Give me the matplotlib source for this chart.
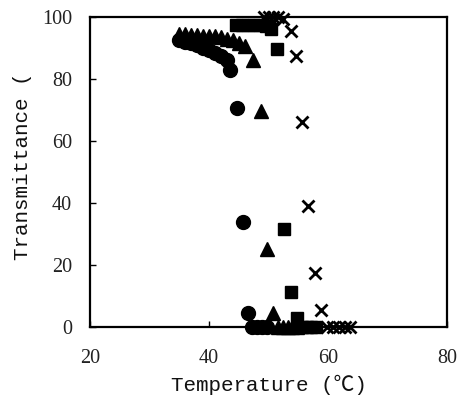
import matplotlib
matplotlib.use("Agg")
import matplotlib.pyplot as plt

# Series
circle_T = [35, 36, 37, 38, 39, 40, 41, 42, 43, 43.6, 44.7, 45.7, 46.5, 47.3, 48.1, 48.9, 49.7]
circle_v = [92.5, 92, 91.5, 91, 90, 89.5, 88.5, 87.5, 86, 83, 70.5, 34, 4.5, 0, 0, 0, 0]

tri_T = [35, 36, 37, 38, 39, 40, 41, 42, 43, 44, 45, 46, 47.4, 48.7, 49.7, 50.8, 51.6, 52.4, 53.2, 54.0, 54.8]
tri_v = [94.5, 94.5, 94.3, 94.2, 94, 94, 93.8, 93.5, 93, 92.5, 91.5, 90.5, 86, 69.6, 25, 4.5, 0, 0, 0, 0, 0]

sq_T = [44.5, 45.5, 46.5, 47.5, 48.5, 49.5, 50.4, 51.4, 52.6, 53.8, 54.8, 55.6, 56.4, 57.2, 58.0]
sq_v = [97.5, 97.5, 97.5, 97.5, 97.3, 97, 96, 89.6, 31.7, 11.3, 3, 0, 0, 0, 0]

x_T = [49.2, 50.0, 50.8, 51.6, 52.4, 53.8, 54.6, 55.6, 56.6, 57.8, 58.8, 59.8, 60.8, 61.8, 62.8, 63.7]
x_v = [100, 100, 100, 100, 99.5, 95.5, 87.4, 66, 39, 17.5, 5.5, 0, 0, 0, 0, 0]

xticks = [20, 40, 60, 80]
yticks = [0, 20, 40, 60, 80, 100]

serif = ['Liberation Serif', 'DejaVu Serif']
mono = ['Liberation Mono', 'Noto Sans CJK JP', 'DejaVu Sans']

fig = plt.figure(figsize=(4.6, 3.98), dpi=100)
ax = fig.add_axes([0.1957, 0.1784, 0.7760, 0.7789])

ax.plot(circle_T, circle_v, 'o', color='black', markersize=10, linestyle='none', clip_on=False)
ax.plot(tri_T, tri_v, '^', color='black', markersize=10.5, linestyle='none', clip_on=False)
ax.plot(sq_T, sq_v, 's', color='black', markersize=9, linestyle='none', clip_on=False)
ax.plot(x_T, x_v, 'x', color='black', markersize=9, markeredgewidth=2, linestyle='none', clip_on=False)

ax.set_xlim(20, 80)
ax.set_ylim(0, 100)
ax.set_xticks(xticks)
ax.set_yticks(yticks)
ax.set_xticklabels([str(t) for t in xticks], family=serif, fontsize=14.5, color='#222222')
ax.set_yticklabels([str(t) for t in yticks], family=serif, fontsize=14.5, color='#222222')
ax.tick_params(axis='both', direction='in', length=4, width=1, top=False, right=False)
ax.tick_params(axis='x', pad=16)
ax.tick_params(axis='y', pad=13)

for s in ax.spines.values():
    s.set_linewidth(1.6)

ax.set_xlabel('Temperature (℃)', family=mono, fontsize=15, labelpad=5, color='#111111')
ax.set_ylabel('Transmittance (', family=mono, fontsize=15, color='#111111')
ax.yaxis.set_label_coords(-0.163, 0.52)

fig.savefig('out.png', dpi=100)
